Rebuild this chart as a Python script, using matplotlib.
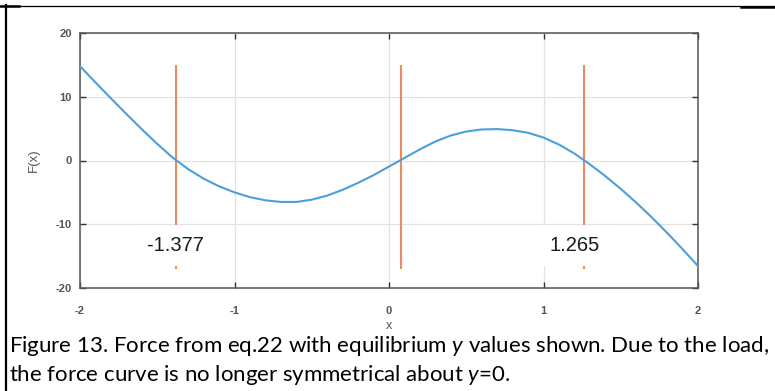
import numpy as np
import matplotlib
matplotlib.use('Agg')
import matplotlib.pyplot as plt
from matplotlib.lines import Line2D

plt.rcParams['axes.unicode_minus'] = False
plt.rcParams['mathtext.fontset'] = 'custom'
plt.rcParams['mathtext.rm'] = 'Lato'
plt.rcParams['mathtext.it'] = 'Lato:italic'

# force curve sampled every 0.1 along x
x_vals = np.round(np.arange(-20, 21) / 10, 1)
force = [14.8, 12.25, 9.75, 7.3, 4.9, 2.6, 0.45, -1.35, -2.85, -4.05,
         -5.0, -5.75, -6.25, -6.5, -6.5, -6.15, -5.5, -4.6, -3.5, -2.3,
         -0.95, 0.4, 1.75, 2.98, 3.92, 4.55, 4.87, 4.93, 4.75, 4.35,
         3.6, 2.5, 1.1, -0.6, -2.45, -4.45, -6.6, -8.9, -11.35, -13.9, -16.55]

# equilibrium positions (roots) and the vertical markers drawn there
roots = [-1.377, 0.075, 1.265]
root_labels = ['-1.377', None, '1.265']
marker_top = 15
marker_bottom = -17

xticks = [-2, -1, 0, 1, 2]
yticks = [-20, -10, 0, 10, 20]

fig = plt.figure(figsize=(7.75, 3.91), dpi=100)
ax = fig.add_axes([80 / 775, 1 - 288 / 391, 618 / 775, 255 / 391])

ax.plot(x_vals, force, color='#4c9fd9', lw=1.5, zorder=3)
ax.vlines(roots, marker_bottom, marker_top, color='#ec8a62', lw=1.5, zorder=2)

# value labels sit on a white box that hides the grid and the marker behind them
box = dict(facecolor='white', edgecolor='none', boxstyle='square,pad=0.55')
ax.text(-1.566, -13.3, root_labels[0] + '   ', ha='left', va='center',
        fontsize=14.5, family='Liberation Sans', color='#1a1a1a', zorder=4, bbox=box)
ax.text(1.042, -13.3, root_labels[2], ha='left', va='center',
        fontsize=14.5, family='Liberation Sans', color='#1a1a1a', zorder=4, bbox=box)

ax.set_xlim(-2, 2)
ax.set_ylim(-20, 20)
ax.set_xticks(xticks)
ax.set_yticks(yticks)
ax.grid(True, color='#e2e2e2', lw=0.9, zorder=0)
ax.set_axisbelow(True)
ax.tick_params(direction='in', length=4, width=1, color='#333333',
               top=True, right=True, labelsize=8, labelcolor='#555555')
ax.tick_params(axis='x', pad=13)
ax.tick_params(axis='y', pad=6)
for lbl in ax.get_xticklabels() + ax.get_yticklabels():
    lbl.set_family('Liberation Sans')
    lbl.set_fontweight('bold')
for sp in ax.spines.values():
    sp.set_color('#555555')
    sp.set_linewidth(1.1)

ax.set_xlabel('x', fontsize=9, color='#555555', family='Liberation Sans', labelpad=3)
ax.set_ylabel('F(x)', fontsize=9.5, color='#555555', family='Liberation Sans', labelpad=11)

# caption under the figure
fig.text(9 / 775, 1 - 346 / 391,
         r'Figure 13. Force from eq.22 with equilibrium $\mathit{y}$ values shown. Due to the load,',
         fontsize=16, family='Lato', color='black', va='center', ha='left')
fig.text(9 / 775, 1 - 375 / 391,
         r'the force curve is no longer symmetrical about $\mathit{y}$=0.',
         fontsize=16, family='Lato', color='black', va='center', ha='left')

# frame lines of the surrounding cell
fig.add_artist(Line2D([6 / 775, 6 / 775], [0, 1 - 5 / 391], color='black', lw=1.6))
fig.add_artist(Line2D([6 / 775, 1], [1 - 6 / 391, 1 - 6 / 391], color='black', lw=0.9))
fig.add_artist(Line2D([0, 19 / 775], [1 - 6 / 391, 1 - 6 / 391], color='black', lw=1.8))
fig.add_artist(Line2D([741 / 775, 1], [1 - 6.5 / 391, 1 - 6.5 / 391], color='black', lw=1.8))

fig.savefig('out.png', dpi=100)
